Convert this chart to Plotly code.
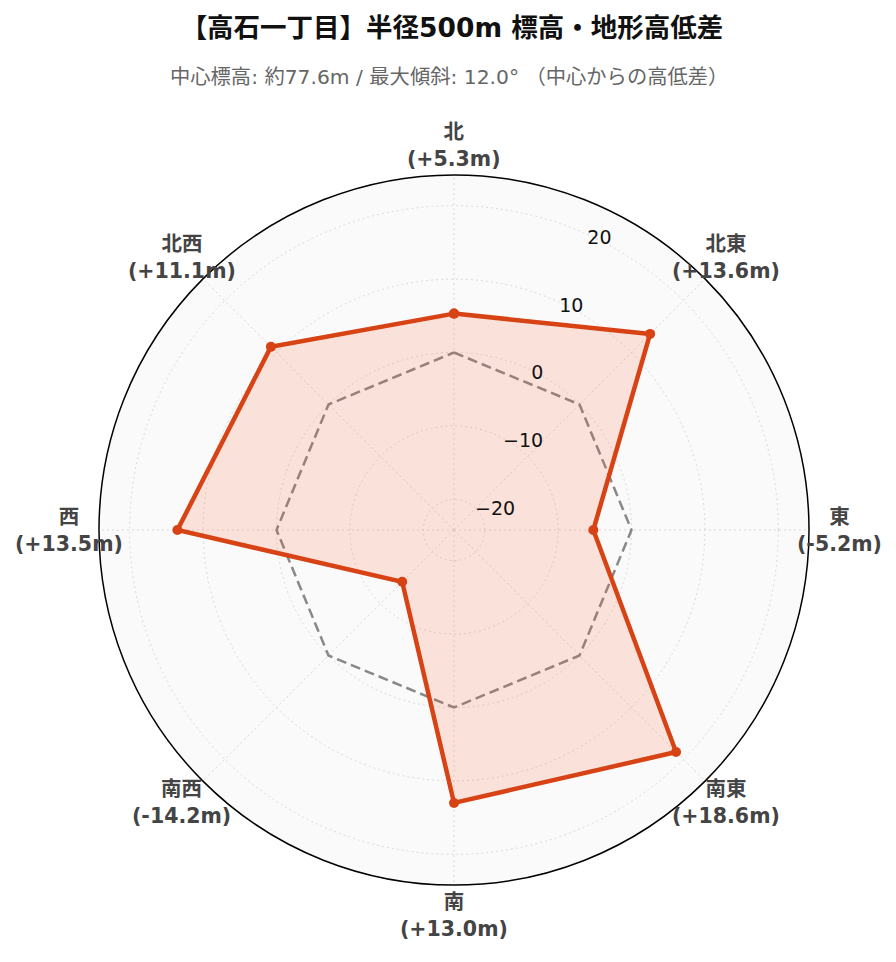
import math
import plotly.graph_objects as go

# 8 directions around the center point, elevation difference (m) from center
directions = ['北', '北東', '東', '南東', '南', '南西', '西', '北西']
angles = [0, 45, 90, 135, 180, 225, 270, 315]
diffs = [5.3, 13.6, -5.2, 18.6, 13.0, -14.2, 13.5, 11.1]
zero_line = [0, 0, 0, 0, 0, 0, 0, 0]
radial_ticks = [-20, -10, 0, 10, 20]

center_elev = 77.6
max_slope = 12.0

W, H = 896, 962
MARGIN = dict(l=78, r=82, t=167, b=85)


def build_figure():
    theta = angles + angles[:1]
    lim = max(abs(v) for v in diffs) * 1.3
    plot_w = W - MARGIN['l'] - MARGIN['r']
    plot_h = H - MARGIN['t'] - MARGIN['b']
    label_px = min(plot_w, plot_h) / 2 + 30

    fig = go.Figure()
    # reference (0m) polygon
    fig.add_trace(go.Scatterpolar(
        r=zero_line + zero_line[:1], theta=theta, mode='lines',
        line=dict(color='#888888', width=2.5, dash='10px,5px'),
        hoverinfo='skip', showlegend=False,
    ))
    fig.add_trace(go.Scatterpolar(
        r=diffs + diffs[:1], theta=theta, mode='lines+markers',
        fill='toself', fillcolor='rgba(255,87,34,0.15)',
        line=dict(color='#D84315', width=4.5),
        marker=dict(color='#D84315', size=10),
        showlegend=False,
    ))

    # direction labels, centered just outside the outer ring
    for d, a, v in zip(directions, angles, diffs):
        rad = math.radians(a)
        fig.add_annotation(
            text=f'<b>{d}<br>({v:+.1f}m)</b>',
            xref='paper', yref='paper',
            x=0.5 + label_px * math.sin(rad) / plot_w,
            y=0.5 + label_px * math.cos(rad) / plot_h,
            xanchor='center', yanchor='middle', showarrow=False,
            font=dict(size=20.5, color='#444'),
        )

    fig.add_annotation(
        text=f'中心標高: 約{center_elev}m / 最大傾斜: {max_slope}° （中心からの高低差）',
        xref='paper', yref='paper', x=0.5, y=1, xshift=-5, yshift=MARGIN['t'] - 69,
        xanchor='center', yanchor='middle', showarrow=False,
        font=dict(size=20.3, color='#666'),
    )

    fig.update_layout(
        width=W, height=H,
        paper_bgcolor='white',
        font=dict(family='DejaVu Sans, Noto Sans CJK JP', color='#222'),
        title=dict(
            text='<b>【高石一丁目】半径500m 標高・地形高低差</b>',
            x=0.4955, xanchor='center', yref='container', y=1 - 20 / H, yanchor='middle',
            font=dict(size=26.5, color='#111'),
        ),
        margin=MARGIN,
        polar=dict(
            bgcolor='#fafafa',
            angularaxis=dict(
                rotation=90, direction='clockwise',
                tickmode='array', tickvals=angles, showticklabels=False,
                showline=True, linecolor='black', linewidth=1.5,
                gridcolor='#d9d9d9', griddash='2px,3px', ticks='',
            ),
            radialaxis=dict(
                range=[-lim, lim], angle=67.5, tickangle=67.5,
                tickmode='array', tickvals=radial_ticks,
                tickfont=dict(size=19, color='#111'),
                showline=False, ticks='',
                gridcolor='#d9d9d9', griddash='2px,3px',
            ),
        ),
    )
    return fig


def main():
    fig = build_figure()
    fig.write_html('out.html')


if __name__ == '__main__':
    main()
